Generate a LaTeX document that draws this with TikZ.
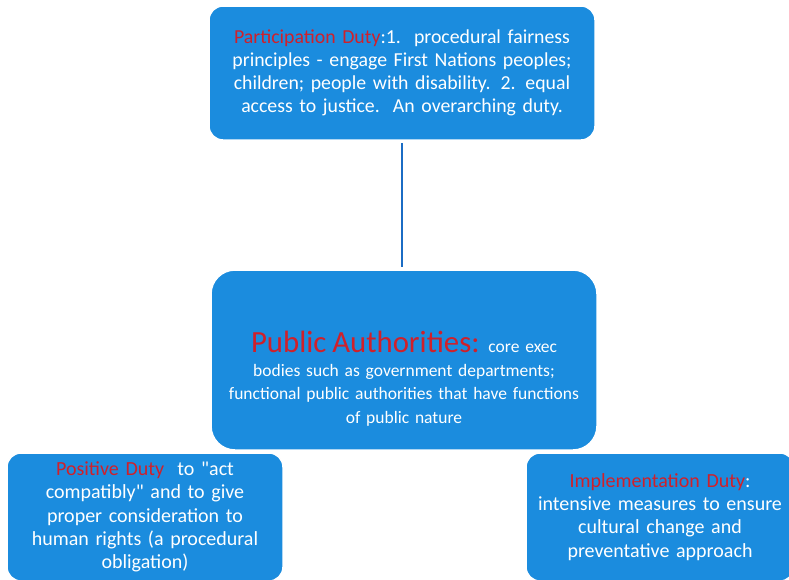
\documentclass[tikz,border=0pt]{standalone}
\usepackage{fontspec}
\setmainfont{Carlito}
\definecolor{boxblue}{HTML}{1B8CDE}
\definecolor{linkblue}{HTML}{1B6CC4}
\definecolor{dutyred}{HTML}{D0202A}
\usetikzlibrary{positioning}

\begin{document}
\begin{tikzpicture}[x = 1pt, y = -1pt,
  dutybox/.style = {rectangle, rounded corners = 14pt, fill = boxblue, draw = white, line width = 1.5pt, text = white, align = center, inner sep = 0pt}]
\useasboundingbox (0,0) rectangle (789,579);
\node[dutybox, minimum width = 386pt, minimum height = 134pt, text width = 370pt, font = \fontsize{19.8}{23}\selectfont] (part) at (402,73) {\textcolor{dutyred}{Participation Duty}:1.\ \ procedural fairness\\ principles - engage First Nations peoples;\\ children; people with disability. 2. equal\\ access to justice.\ \ An overarching duty.};
\node[dutybox, rounded corners = 24pt, minimum width = 386pt, minimum height = 180pt, text width = 376pt, font = \fontsize{17.5}{23.5}\selectfont] (pub) at (404,360) {\rule{0pt}{59pt}{\fontsize{30.8}{31}\selectfont\textcolor{dutyred}{Public Authorities:}} core exec\\ bodies such as government departments;\\ functional public authorities that have functions\\ of public nature};
\node[dutybox, minimum width = 276pt, minimum height = 128pt, text width = 270pt, font = \fontsize{20}{23.3}\selectfont] (pos) at (145,517) {\textcolor{dutyred}{Positive Duty}\ \ to \textquotedbl act\\ compatibly\textquotedbl\ and to give\\ proper consideration to\\ human rights (a procedural\\ obligation)};
\node[dutybox, minimum width = 268pt, minimum height = 128pt, text width = 266pt, font = \fontsize{20}{23.3}\selectfont] (impl) at (660,517) {\textcolor{dutyred}{Implementation Duty}:\\ intensive measures to ensure\\ cultural change and\\ preventative approach};
\draw[linkblue, line width = 2.5pt, shorten <= 2pt, shorten >= 2pt] (part.south) -- (part.south |- pub.north);
\end{tikzpicture}
\end{document}
